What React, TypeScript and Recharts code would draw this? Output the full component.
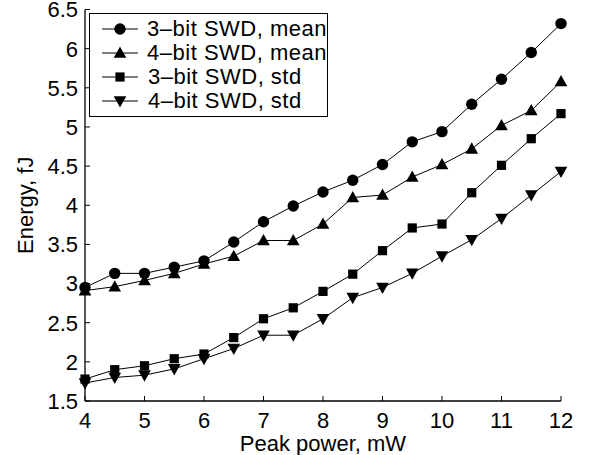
import { CartesianGrid, Legend, Line, LineChart, XAxis, YAxis } from 'recharts'

const power = [4, 4.5, 5, 5.5, 6, 6.5, 7, 7.5, 8, 8.5, 9, 9.5, 10, 10.5, 11, 11.5, 12]
const mean3bit = [2.95, 3.13, 3.13, 3.21, 3.29, 3.53, 3.79, 3.99, 4.17, 4.32, 4.52, 4.81, 4.94, 5.29, 5.61, 5.95, 6.32]
const mean4bit = [2.91, 2.96, 3.04, 3.13, 3.25, 3.35, 3.55, 3.55, 3.76, 4.1, 4.13, 4.36, 4.52, 4.72, 5.02, 5.21, 5.58]
const std3bit = [1.78, 1.9, 1.95, 2.04, 2.1, 2.31, 2.55, 2.69, 2.9, 3.12, 3.42, 3.71, 3.76, 4.16, 4.51, 4.85, 5.17]
const std4bit = [1.73, 1.8, 1.83, 1.91, 2.04, 2.17, 2.34, 2.34, 2.55, 2.82, 2.95, 3.13, 3.35, 3.56, 3.83, 4.13, 4.43]

const xTicks = [4, 5, 6, 7, 8, 9, 10, 11, 12]
const yTicks = [1.5, 2, 2.5, 3, 3.5, 4, 4.5, 5, 5.5, 6, 6.5]

type Shape = 'circle' | 'up' | 'square' | 'down'

const series: { key: string; name: string; shape: Shape; values: number[] }[] = [
  { key: 'mean3', name: '3–bit SWD, mean', shape: 'circle', values: mean3bit },
  { key: 'mean4', name: '4–bit SWD, mean', shape: 'up', values: mean4bit },
  { key: 'std3', name: '3–bit SWD, std', shape: 'square', values: std3bit },
  { key: 'std4', name: '4–bit SWD, std', shape: 'down', values: std4bit },
]

const data = power.map((p, i) => {
  const row: Record<string, number> = { power: p }
  series.forEach((s) => (row[s.key] = s.values[i]))
  return row
})

const FONT = '"Liberation Sans", Arial, Helvetica, sans-serif'
const FS = 22

function Marker({ cx, cy, shape }: { cx: number; cy: number; shape: Shape }) {
  if (cx == null || cy == null) return null
  if (shape === 'circle') return <circle cx={cx} cy={cy} r={5.7} fill="#000" />
  if (shape === 'square') return <rect x={cx - 4.6} y={cy - 4.6} width={9.2} height={9.2} fill="#000" />
  if (shape === 'up')
    return <polygon points={`${cx},${cy - 6.5} ${cx + 6.3},${cy + 4.8} ${cx - 6.3},${cy + 4.8}`} fill="#000" />
  return <polygon points={`${cx},${cy + 6.5} ${cx + 6.3},${cy - 4.8} ${cx - 6.3},${cy - 4.8}`} fill="#000" />
}

const XTick = (props: any) => {
  const { x, y, payload } = props
  return (
    <g>
      <line x1={x} x2={x} y1={y} y2={y - 5} stroke="#000" />
      <text x={x} y={y + 27} textAnchor="middle" fontSize={FS} fontFamily={FONT} fill="#000">
        {payload.value}
      </text>
    </g>
  )
}

const YTick = (props: any) => {
  const { x, y, payload } = props
  return (
    <g>
      <line x1={x} x2={x + 5} y1={y} y2={y} stroke="#000" />
      <text x={x - 7} y={y} dy="0.36em" textAnchor="end" fontSize={FS} fontFamily={FONT} fill="#000">
        {payload.value}
      </text>
    </g>
  )
}

const LegendBox = () => (
  <div
    style={{
      boxSizing: 'border-box',
      width: 239,
      height: 104,
      border: '1px solid #000',
      background: '#fff',
      paddingTop: 4,
      fontFamily: FONT,
      fontSize: FS,
      letterSpacing: 0.5,
    }}
  >
    {series.map((s) => (
      <div key={s.key} style={{ display: 'flex', alignItems: 'center', height: 23.8 }}>
        <svg width={58} height={20} style={{ display: 'block' }}>
          <line x1={12} x2={48} y1={10} y2={10} stroke="#000" />
          <Marker cx={30} cy={10} shape={s.shape} />
        </svg>
        <span style={{ lineHeight: 1, whiteSpace: 'nowrap' }}>{s.name}</span>
      </div>
    ))}
  </div>
)

export default function App() {
  return (
    <div style={{ position: 'absolute', left: 0, top: 0, background: '#fff' }}>
      <LineChart width={589} height={455} data={data} margin={{ top: 9.5, right: 28, left: 0, bottom: 0 }}>
        <CartesianGrid stroke="none" />
        <XAxis
          dataKey="power"
          type="number"
          domain={[4, 12]}
          ticks={xTicks}
          height={54}
          tickSize={0}
          tickMargin={0}
          tick={XTick}
          axisLine={{ stroke: '#000', strokeWidth: 1.3 }}
          tickLine={false}
          label={{ value: 'Peak power, mW', position: 'insideBottom', offset: 4, fontSize: FS, fontFamily: FONT, fill: '#000' }}
        />
        <XAxis
          xAxisId="top"
          orientation="top"
          dataKey="power"
          type="number"
          domain={[4, 12]}
          ticks={xTicks}
          height={0}
          mirror
          tickSize={5}
          tick={() => <g />}
          axisLine={{ stroke: '#000', strokeWidth: 1.3 }}
          tickLine={{ stroke: '#000' }}
        />
        <YAxis
          type="number"
          domain={[1.5, 6.5]}
          ticks={yTicks}
          width={85}
          tickSize={0}
          tickMargin={0}
          tick={YTick}
          axisLine={{ stroke: '#000', strokeWidth: 1.3 }}
          tickLine={false}
          label={{ value: 'Energy, fJ', angle: -90, position: 'insideLeft', offset: 25, style: { textAnchor: 'middle' }, fontSize: FS, fontFamily: FONT, fill: '#000' }}
        />
        <YAxis
          yAxisId="right"
          orientation="right"
          type="number"
          domain={[1.5, 6.5]}
          ticks={yTicks}
          width={0}
          mirror
          tickSize={5}
          tick={() => <g />}
          axisLine={{ stroke: '#000', strokeWidth: 1.3 }}
          tickLine={{ stroke: '#000' }}
        />
        <Legend
          layout="vertical"
          align="center"
          verticalAlign="middle"
          content={LegendBox}
          wrapperStyle={{ left: 89, top: 12.5, width: 239, height: 104 }}
        />
        {series.map((s) => (
          <Line
            key={s.key}
            dataKey={s.key}
            name={s.name}
            stroke="#000"
            strokeWidth={1}
            isAnimationActive={false}
            dot={(p: any) => <Marker key={p.index} cx={p.cx} cy={p.cy} shape={s.shape} />}
            activeDot={false}
          />
        ))}
      </LineChart>
    </div>
  )
}
